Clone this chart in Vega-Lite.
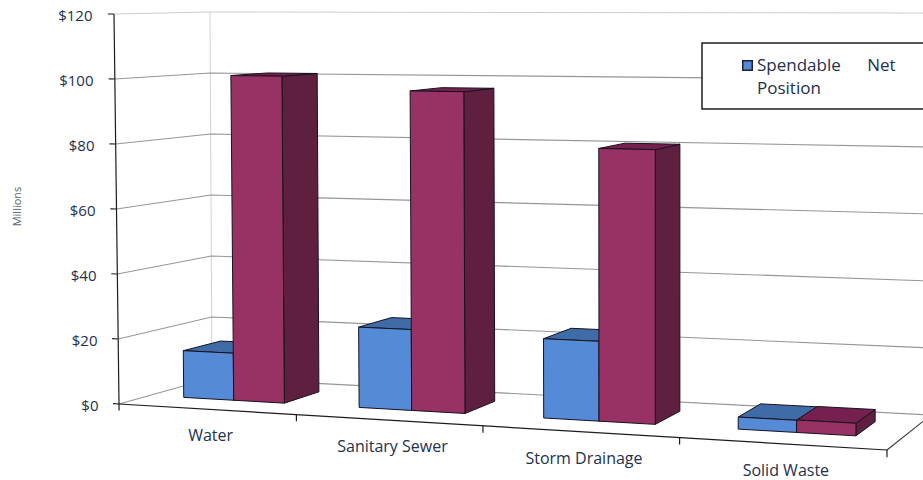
{
  "$schema": "https://vega.github.io/schema/vega-lite/v6.json",
  "width": 923,
  "height": 480,
  "padding": 0,
  "autosize": "none",
  "background": "white",
  "config": {"view": {"stroke": null}, "font": "Open Sans"},
  "datasets": {
    "bars": [
      {"category": "Water", "series": "Spendable Net Position", "value": 14.6},
      {"category": "Water", "series": "Other Net Position", "value": 100.8},
      {"category": "Sanitary Sewer", "series": "Spendable Net Position", "value": 24.5},
      {"category": "Sanitary Sewer", "series": "Other Net Position", "value": 96.8},
      {"category": "Storm Drainage", "series": "Spendable Net Position", "value": 23.6},
      {"category": "Storm Drainage", "series": "Other Net Position", "value": 80.6},
      {"category": "Solid Waste", "series": "Spendable Net Position", "value": 3.5},
      {"category": "Solid Waste", "series": "Other Net Position", "value": 3.6}
    ],
    "frame": [
      {"edge": "wall", "kind": "wall", "u": [0, 0], "d": [1, 1], "h": [0, 120]},
      {"edge": "grid120", "kind": "gridTop", "u": [0, 0, 4], "d": [0, 1, 1], "h": [120, 120, 120]},
      {"edge": "grid100", "kind": "grid", "u": [0, 0, 4], "d": [0, 1, 1], "h": [100, 100, 100]},
      {"edge": "grid80", "kind": "grid", "u": [0, 0, 4], "d": [0, 1, 1], "h": [80, 80, 80]},
      {"edge": "grid60", "kind": "grid", "u": [0, 0, 4], "d": [0, 1, 1], "h": [60, 60, 60]},
      {"edge": "grid40", "kind": "grid", "u": [0, 0, 4], "d": [0, 1, 1], "h": [40, 40, 40]},
      {"edge": "grid20", "kind": "grid", "u": [0, 0, 4], "d": [0, 1, 1], "h": [20, 20, 20]},
      {"edge": "floor", "kind": "grid", "u": [0, 0, 4], "d": [0, 1, 1], "h": [0, 0, 0]},
      {"edge": "floorRight", "kind": "side", "u": [4, 4], "d": [0, 1], "h": [0, 0]},
      {"edge": "axisLeft", "kind": "axis", "u": [0, 0], "d": [0, 0], "h": [0, 120]},
      {"edge": "axisFront", "kind": "axis", "u": [0, 4], "d": [0, 0], "h": [0, 0]},
      {"edge": "tickY0", "kind": "axis", "u": [-0.035, 0], "d": [0, 0], "h": [0, 0]},
      {"edge": "tickY20", "kind": "axis", "u": [-0.035, 0], "d": [0, 0], "h": [20, 20]},
      {"edge": "tickY40", "kind": "axis", "u": [-0.035, 0], "d": [0, 0], "h": [40, 40]},
      {"edge": "tickY60", "kind": "axis", "u": [-0.035, 0], "d": [0, 0], "h": [60, 60]},
      {"edge": "tickY80", "kind": "axis", "u": [-0.035, 0], "d": [0, 0], "h": [80, 80]},
      {"edge": "tickY100", "kind": "axis", "u": [-0.035, 0], "d": [0, 0], "h": [100, 100]},
      {"edge": "tickY120", "kind": "axis", "u": [-0.035, 0], "d": [0, 0], "h": [120, 120]},
      {"edge": "tickX0", "kind": "axis", "u": [0, 0], "d": [0, 0], "h": [0, -2]},
      {"edge": "tickX1", "kind": "axis", "u": [1, 1], "d": [0, 0], "h": [0, -2]},
      {"edge": "tickX2", "kind": "axis", "u": [2, 2], "d": [0, 0], "h": [0, -2]},
      {"edge": "tickX3", "kind": "axis", "u": [3, 3], "d": [0, 0], "h": [0, -2]},
      {"edge": "tickX4", "kind": "axis", "u": [4, 4], "d": [0, 0], "h": [0, -2]}
    ]
  },
  "layer": [
    {
      "data": {"name": "frame"},
      "transform": [
        {"flatten": ["u", "d", "h"]},
        {"window": [{"op": "row_number", "as": "n"}]},
        {"calculate": "datum.u/(datum.u+1.11*(4-datum.u))", "as": "t"},
        {"calculate": "119+768*datum.t+(93-49*datum.t)*datum.d-(1-1.5*datum.t)*(5-3*datum.d)*datum.h/120", "as": "sx"},
        {"calculate": "(404-(404+46*datum.t+(-26-9*datum.t)*datum.d)+(3.25+0.35*datum.t+(-0.2-0.05*datum.t)*datum.d)*datum.h)/3.25", "as": "sy"}
      ],
      "mark": {"type": "line", "interpolate": "linear", "strokeJoin": "miter"},
      "encoding": {
        "x": {"field": "sx", "type": "quantitative", "scale": {"domain": [0, 923], "nice": false, "zero": false}, "axis": null},
        "y": {
          "field": "sy", "type": "quantitative",
          "scale": {"domain": [-23.38, 124.31], "nice": false, "zero": false},
          "axis": {
            "values": [0, 20, 40, 60, 80, 100, 120],
            "format": "$d",
            "offset": -98,
            "domain": false,
            "ticks": false,
            "grid": false,
            "labelPadding": 0,
            "labelOffset": 1.5,
            "labelFont": "Open Sans",
            "labelFontSize": 15,
            "labelColor": "#23304d",
            "title": "Millions",
            "titleFont": "Open Sans",
            "titleFontSize": 11,
            "titleFontWeight": "normal",
            "titleColor": "#5b6470",
            "titleX": -76,
            "titleY": 206,
            "encoding": {"labels": {"dx": {"value": {"expr": "-6*datum.value/120"}}}}
          }
        },
        "detail": {"field": "edge"},
        "order": {"field": "n", "type": "quantitative"},
        "stroke": {
          "field": "kind", "type": "nominal", "legend": null,
          "scale": {"domain": ["wall", "gridTop", "grid", "side", "axis"], "range": ["#d2d2d2", "#cccccc", "#969696", "#3a3a3a", "#1c1c1c"]}
        },
        "strokeWidth": {
          "field": "kind", "type": "nominal", "legend": null,
          "scale": {"domain": ["wall", "gridTop", "grid", "side", "axis"], "range": [1, 1.2, 1.2, 1, 1.5]}
        }
      }
    },
    {
      "data": {"values": [{"label": "legend frame"}]},
      "mark": {"type": "rect", "fill": "white", "stroke": "#1f1f1f", "strokeWidth": 1.5},
      "encoding": {
        "x": {"datum": 702, "type": "quantitative", "axis": null},
        "x2": {"datum": 960},
        "y": {"datum": 111.1, "type": "quantitative"},
        "y2": {"datum": 90.8}
      }
    },
    {
      "data": {"name": "bars"},
      "transform": [
        {"calculate": "indexof(['Water','Sanitary Sewer','Storm Drainage','Solid Waste'],datum.category)", "as": "i"},
        {"calculate": "datum.series==='Spendable Net Position'?0:1", "as": "s"},
        {"calculate": "['side','top','front']", "as": "face"},
        {"flatten": ["face"]},
        {"calculate": "[0,1,2,3,4]", "as": "corner"},
        {"flatten": ["corner"]},
        {"calculate": "{front:{u:[0,1,1,0,0],d:[0,0,0,0,0],h:[0,0,1,1,0]},side:{u:[1,1,1,1,1],d:[0,1,1,0,0],h:[0,0,1,1,0]},top:{u:[0,1,1,0,0],d:[0,0,1,1,0],h:[1,1,1,1,1]}}[datum.face]", "as": "shape"},
        {"calculate": "datum.i+0.2+0.29*datum.s+0.29*datum.shape.u[datum.corner]", "as": "u"},
        {"calculate": "0.33+0.41*datum.shape.d[datum.corner]", "as": "d"},
        {"calculate": "datum.value*datum.shape.h[datum.corner]", "as": "h"},
        {"calculate": "datum.u/(datum.u+1.11*(4-datum.u))", "as": "t"},
        {"calculate": "119+768*datum.t+(93-49*datum.t)*datum.d-(1-1.5*datum.t)*(5-3*datum.d)*datum.h/120", "as": "sx"},
        {"calculate": "(404-(404+46*datum.t+(-26-9*datum.t)*datum.d)+(3.25+0.35*datum.t+(-0.2-0.05*datum.t)*datum.d)*datum.h)/3.25", "as": "sy"},
        {"calculate": "datum.face==='front'?datum.series:datum.series+' '+datum.face", "as": "shade"},
        {"calculate": "datum.s+'-'+datum.i+'-'+datum.face", "as": "faceKey"}
      ],
      "mark": {"type": "line", "interpolate": "linear", "filled": true, "stroke": "#17121f", "strokeWidth": 1, "strokeJoin": "miter", "opacity": 1},
      "encoding": {
        "x": {"field": "sx", "type": "quantitative", "axis": null},
        "y": {"field": "sy", "type": "quantitative"},
        "detail": {"field": "faceKey"},
        "order": {"field": "corner", "type": "quantitative"},
        "fill": {
          "field": "shade", "type": "nominal",
          "scale": {
            "domain": ["Spendable Net Position", "Spendable Net Position side", "Spendable Net Position top", "Other Net Position", "Other Net Position side", "Other Net Position top"],
            "range": ["#558bd6", "#3a6299", "#3f6ca6", "#983264", "#5f203f", "#75204f"]
          },
          "legend": {
            "orient": "none",
            "legendX": 739,
            "legendY": 57,
            "title": null,
            "values": ["Spendable Net Position"],
            "symbolType": "square",
            "symbolSize": 90,
            "symbolStrokeColor": "#1a2336",
            "symbolStrokeWidth": 1.5,
            "labelFont": "Open Sans",
            "labelFontSize": 17,
            "labelColor": "#23304d",
            "labelOffset": 1,
            "labelExpr": "['\u2004Spendable\u00a0\u00a0\u00a0\u00a0\u00a0\u00a0Net','Position']",
            "encoding": {"labels": {"lineHeight": {"value": 23}}}
          }
        }
      }
    },
    {
      "data": {"name": "bars"},
      "transform": [
        {"filter": "datum.series==='Spendable Net Position'"},
        {"calculate": "indexof(['Water','Sanitary Sewer','Storm Drainage','Solid Waste'],datum.category)+0.5", "as": "u"},
        {"calculate": "datum.u/(datum.u+1.11*(4-datum.u))", "as": "t"},
        {"calculate": "119+768*datum.t", "as": "sx"},
        {"calculate": "(404-(404+46*datum.t))/3.25", "as": "sy"}
      ],
      "mark": {"type": "text", "font": "Open Sans", "fontSize": 16, "color": "#23304d", "dx": 4, "dy": 27, "baseline": "middle", "align": "center"},
      "encoding": {
        "x": {"field": "sx", "type": "quantitative", "axis": null},
        "y": {"field": "sy", "type": "quantitative"},
        "text": {"field": "category", "type": "nominal"}
      }
    }
  ]
}
